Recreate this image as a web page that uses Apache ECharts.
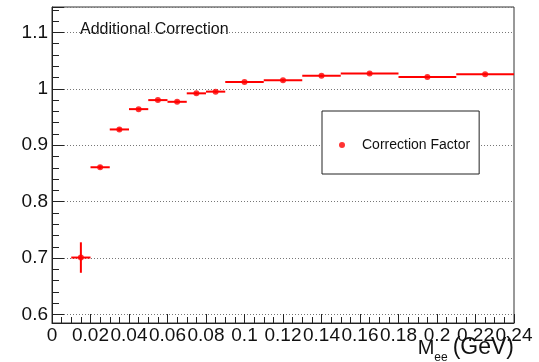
<!DOCTYPE html>
<html>
<head>
<meta charset="utf-8">
<title>Additional Correction</title>
<script src="https://cdn.jsdelivr.net/npm/echarts@6/dist/echarts.min.js"></script>
<style>
  html, body { margin: 0; padding: 0; background: #fff; }
  #chart { width: 539px; height: 362px; }
</style>
</head>
<body>
<div id="chart"></div>
<script>
// Mass bins (GeV): lower and upper edges
const binLow  = [0.01, 0.02, 0.03, 0.04, 0.05, 0.06, 0.07, 0.08, 0.09, 0.11, 0.13, 0.15, 0.18, 0.21];
const binHigh = [0.02, 0.03, 0.04, 0.05, 0.06, 0.07, 0.08, 0.09, 0.11, 0.13, 0.15, 0.18, 0.21, 0.24];
// Correction factor per bin and its uncertainty
const factor    = [0.701, 0.861, 0.928, 0.964, 0.980, 0.977, 0.992, 0.995, 1.012, 1.015, 1.023, 1.027, 1.021, 1.026];
const factorErr = [0.027, 0.003, 0.003, 0.002, 0.002, 0.002, 0.002, 0.002, 0.002, 0.002, 0.002, 0.002, 0.002, 0.002];
// Axis tick labels
const xTickLabels = ['0', '0.02', '0.04', '0.06', '0.08', '0.1', '0.12', '0.14', '0.16', '0.18', '0.2', '0.22', '0.24'];
const yTickLabels = ['0.6', '0.7', '0.8', '0.9', '1', '1.1'];

const FONT = '"Liberation Sans", Arial, Helvetica, sans-serif';
const RED = '#ff0000';

function fmt(v) {
  return String(Math.round(v * 100) / 100);
}

const barData = binLow.map((lo, i) => [lo, binHigh[i], factor[i], factorErr[i]]);
const pointData = binLow.map((lo, i) => [(lo + binHigh[i]) / 2, factor[i]]);

const chart = echarts.init(document.getElementById('chart'), null, { renderer: 'canvas' });

chart.setOption({
  animation: false,
  backgroundColor: '#ffffff',
  textStyle: { fontFamily: FONT },
  grid: {
    left: 52, right: 25, top: 7, bottom: 39,
    show: true, borderColor: '#333', borderWidth: 1, backgroundColor: 'transparent'
  },
  legend: {
    data: ['Correction Factor'],
    left: 322, top: 111,
    orient: 'vertical',
    padding: [27, 9, 22, 17],
    borderColor: '#222', borderWidth: 1,
    backgroundColor: '#fff',
    itemWidth: 30, itemHeight: 6,
    icon: 'circle',
    textStyle: { fontFamily: FONT, fontSize: 14, color: '#111' }
  },
  xAxis: {
    type: 'value',
    min: 0, max: 0.24, interval: 0.02,
    axisLine: { show: true, onZero: false, lineStyle: { color: '#222', width: 1 } },
    axisTick: { show: true, inside: true, length: 9, lineStyle: { color: '#222' } },
    minorTick: { show: true, splitNumber: 4, length: 6, lineStyle: { color: '#222' } },
    splitLine: { show: false },
    axisLabel: {
      fontFamily: FONT, fontSize: 19, color: '#111', margin: 3,
      showMinLabel: true, showMaxLabel: true, hideOverlap: false,
      formatter: v => (xTickLabels.includes(fmt(v)) ? fmt(v) : '')
    }
  },
  yAxis: {
    type: 'value',
    min: 0.585, max: 1.145, splitNumber: 5,
    axisLine: { show: true, onZero: false, lineStyle: { color: '#222', width: 1 } },
    axisTick: { show: true, inside: true, length: 12, lineStyle: { color: '#222' } },
    minorTick: { show: true, splitNumber: 5, length: 7, lineStyle: { color: '#222' } },
    splitLine: { show: true, lineStyle: { color: '#777', type: [1, 2], width: 1 } },
    axisLabel: {
      fontFamily: FONT, fontSize: 19, color: '#111', margin: 4,
      showMinLabel: false, showMaxLabel: false,
      formatter: v => (yTickLabels.includes(fmt(v)) ? fmt(v) : '')
    }
  },
  graphic: [
    {
      type: 'text', left: 80, top: 22,
      style: { text: 'Additional Correction', font: '16px ' + FONT, fill: '#111' }
    },
    {
      type: 'text',
      style: {
        x: 514, y: 337, align: 'right', verticalAlign: 'top',
        text: '{m|M}{s|ee}{sp|}{g|(GeV)}',
        rich: {
          m: { fontSize: 20, fontFamily: FONT, fill: '#111', lineHeight: 22 },
          s: { fontSize: 12, fontFamily: FONT, fill: '#111', lineHeight: 12, padding: [19, 0, 0, 0] },
          sp: { width: 5 },
          g: { fontSize: 23, fontFamily: FONT, fill: '#111', lineHeight: 22 }
        }
      }
    }
  ],
  series: [
    {
      type: 'custom',
      name: 'errors',
      data: barData,
      encode: { x: [0, 1], y: 2 },
      renderItem: (params, api) => {
        const lo = api.value(0), hi = api.value(1), y = api.value(2), e = api.value(3);
        const mid = (lo + hi) / 2;
        const a = api.coord([lo, y]);
        const b = api.coord([hi, y]);
        const c = api.coord([mid, y + e]);
        const d = api.coord([mid, y - e]);
        const style = { stroke: RED, lineWidth: 2 };
        return {
          type: 'group',
          children: [
            { type: 'line', shape: { x1: a[0], y1: a[1], x2: b[0], y2: b[1] }, style },
            { type: 'line', shape: { x1: c[0], y1: c[1], x2: d[0], y2: d[1] }, style }
          ]
        };
      },
      z: 2
    },
    {
      type: 'scatter',
      name: 'Correction Factor',
      data: pointData,
      symbol: 'circle',
      symbolSize: 6,
      itemStyle: { color: RED },
      z: 3
    }
  ]
});
</script>
</body>
</html>
